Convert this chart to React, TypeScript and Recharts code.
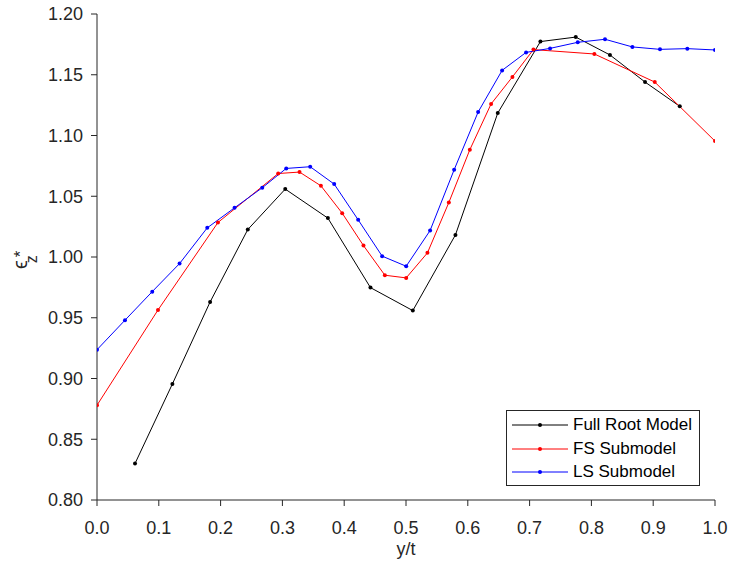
import React from 'react';
import { LineChart, Line, XAxis, YAxis } from 'recharts';

const fullRootX = [0.0615, 0.122, 0.183, 0.244, 0.3046, 0.3736, 0.4425, 0.511, 0.58, 0.6485, 0.7175, 0.7747, 0.83, 0.8868, 0.943];
const fullRootY = [0.830, 0.8955, 0.963, 1.0226, 1.0559, 1.032, 0.9748, 0.9559, 1.0182, 1.1185, 1.1773, 1.181, 1.1663, 1.144, 1.124];

const fsX = [0.0, 0.0987, 0.1957, 0.2932, 0.3277, 0.3623, 0.3967, 0.4312, 0.4658, 0.5003, 0.5347, 0.5693, 0.6033, 0.6377, 0.6722, 0.7062, 0.8048, 0.9025, 1.0];
const fsY = [0.878, 0.9564, 1.0284, 1.0687, 1.0699, 1.0586, 1.0361, 1.0094, 0.985, 0.9828, 1.0034, 1.0448, 1.0883, 1.126, 1.1482, 1.1707, 1.1671, 1.144, 1.0954];

const lsX = [0.0, 0.0453, 0.0894, 0.1336, 0.1784, 0.2226, 0.2674, 0.3062, 0.345, 0.3838, 0.4226, 0.4614, 0.5003, 0.539, 0.5779, 0.6167, 0.6555, 0.6943, 0.7331, 0.7779, 0.822, 0.8663, 0.911, 0.9552, 1.0];
const lsY = [0.9237, 0.948, 0.9715, 0.9946, 1.024, 1.0405, 1.057, 1.0729, 1.0743, 1.06, 1.0306, 1.0007, 0.9924, 1.0218, 1.0718, 1.1193, 1.1536, 1.1684, 1.1717, 1.1767, 1.1792, 1.1729, 1.1709, 1.1715, 1.1704];

const xTicks = [0, 0.1, 0.2, 0.3, 0.4, 0.5, 0.6, 0.7, 0.8, 0.9, 1.0];
const yTicks = [0.8, 0.85, 0.9, 0.95, 1.0, 1.05, 1.1, 1.15, 1.2];

const seriesNames = ['Full Root Model', 'FS Submodel', 'LS Submodel'];
const seriesColors = ['#000000', '#ff0000', '#0000ff'];

const zip = (xs: number[], ys: number[]) => xs.map((x, i) => ({ x, y: ys[i] }));
const seriesData = [zip(fullRootX, fullRootY), zip(fsX, fsY), zip(lsX, lsY)];

const AXIS = '#262626';
const FONT = 'Liberation Sans, Arial, sans-serif';

const EpsLabel = () => (
  <text
    transform="translate(27,269) rotate(-90)"
    textAnchor="start"
    fontFamily={FONT}
    fill={AXIS}
  >
    <tspan fontSize={20}>ϵ</tspan>
    <tspan dy={10} dx={-3} fontSize={16}>z</tspan>
    <tspan dy={-11} dx={-2} fontSize={17}>*</tspan>
  </text>
);

export default function App() {
  return (
    <div style={{ position: 'absolute', left: 0, top: 0, width: 729, height: 568, background: '#fff' }}>
      <LineChart
        width={729}
        height={568}
        margin={{ top: 14, right: 14, bottom: 0, left: 37 }}
      >
        <XAxis
          dataKey="x"
          type="number"
          domain={[0, 1]}
          ticks={xTicks}
          tickFormatter={(v: number) => v.toFixed(1)}
          allowDataOverflow
          height={68}
          stroke={AXIS}
          tickSize={6}
          tickMargin={15}
          tick={{ fill: AXIS, fontSize: 18, fontFamily: FONT }}
          label={{ value: 'y/t', position: 'insideBottom', offset: 13, fill: AXIS, fontSize: 18, fontFamily: FONT }}
        />
        <YAxis
          dataKey="y"
          type="number"
          domain={[0.8, 1.2]}
          ticks={yTicks}
          tickFormatter={(v: number) => v.toFixed(2)}
          allowDataOverflow
          width={60}
          stroke={AXIS}
          tickSize={6}
          tickMargin={8}
          tick={{ fill: AXIS, fontSize: 18, fontFamily: FONT }}
          label={<EpsLabel />}
        />
        {seriesData.map((d, i) => (
          <Line
            key={seriesNames[i]}
            data={d}
            dataKey="y"
            name={seriesNames[i]}
            type="linear"
            stroke={seriesColors[i]}
            strokeWidth={1}
            dot={{ r: 2, fill: seriesColors[i], stroke: 'none' }}
            activeDot={false}
            isAnimationActive={false}
          />
        ))}
      </LineChart>
      <div
        style={{
          position: 'absolute',
          left: 506,
          top: 410,
          width: 192,
          height: 74,
          border: `1px solid ${AXIS}`,
          background: '#fff',
          fontFamily: FONT,
          fontSize: 17,
          color: '#000',
        }}
      >
        {seriesNames.map((n, i) => (
          <div
            key={n}
            style={{ position: 'absolute', left: 0, top: 3 + i * 23.5, height: 22, display: 'flex', alignItems: 'center' }}
          >
            <svg width={66} height={22} style={{ display: 'block' }}>
              <line x1={5} x2={61} y1={11} y2={11} stroke={seriesColors[i]} strokeWidth={1} />
              <circle cx={33} cy={11} r={2} fill={seriesColors[i]} />
            </svg>
            <span style={{ whiteSpace: 'nowrap', lineHeight: '22px' }}>{n}</span>
          </div>
        ))}
      </div>
    </div>
  );
}
